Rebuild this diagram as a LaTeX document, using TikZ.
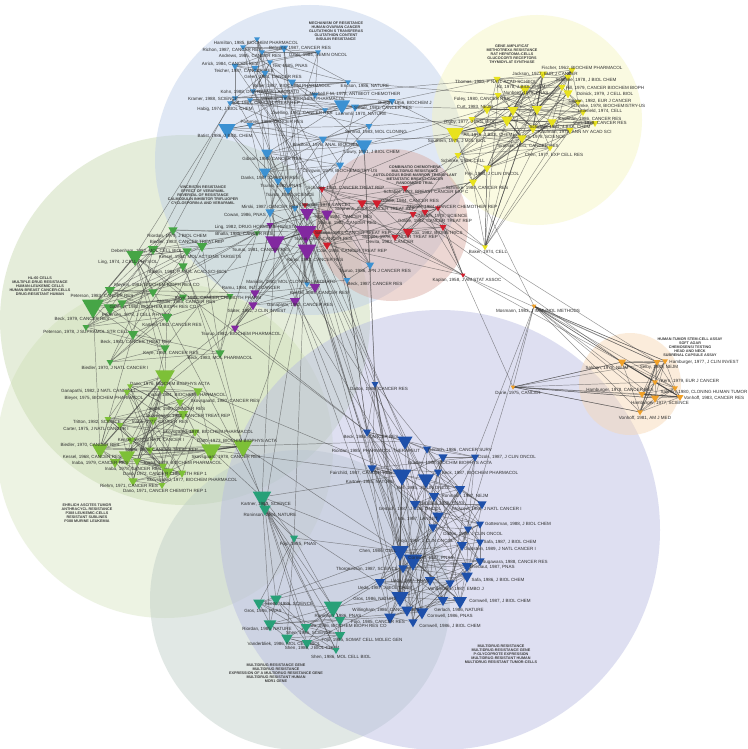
\documentclass[tikz,border=0pt]{standalone}
\usepackage{fontspec}
\setmainfont{Liberation Sans}
\usetikzlibrary{shapes.geometric}
\definecolor{nb}{RGB}{60,145,210}
\definecolor{ny}{RGB}{232,226,30}
\definecolor{nr}{RGB}{210,30,45}
\definecolor{np}{RGB}{130,40,160}
\definecolor{ng}{RGB}{70,165,70}
\definecolor{nl}{RGB}{125,192,55}
\definecolor{nt}{RGB}{40,160,120}
\definecolor{nd}{RGB}{30,80,170}
\definecolor{no}{RGB}{240,160,40}
\definecolor{cblue}{RGB}{188,204,233}
\definecolor{cyellow}{RGB}{244,244,190}
\definecolor{cred}{RGB}{217,168,159}
\definecolor{cgreen}{RGB}{199,217,173}
\definecolor{clgreen}{RGB}{217,230,195}
\definecolor{cteal}{RGB}{190,205,198}
\definecolor{clav}{RGB}{182,186,226}
\definecolor{corange}{RGB}{248,215,177}
\pgfdeclarelayer{back}
\pgfdeclarelayer{mid}
\pgfsetlayers{back,mid,main}
\tikzset{
	tri/.style={regular polygon, regular polygon sides=3, shape border rotate=180, fill=#1, draw=none, inner sep=0pt},
	lbl/.style={font=\fontsize{3.4}{4}\selectfont, text={rgb,255:red,45;green,45;blue,45}, inner sep=0pt},
	kw/.style={font=\fontsize{2.8}{3.1}\selectfont\bfseries, text={rgb,255:red,60;green,60;blue,60}, align=center, inner sep=0pt},
	edge/.style={draw={rgb,255:red,60;green,60;blue,60}, line width=0.35pt, opacity=0.55},
	heavy/.style={edge, line width=0.8pt, opacity=0.7},
	cluster/.style={fill=#1, fill opacity=0.45, draw=none}
}
% name, x, y, size, colour, label x, label y, text
\newcommand{\pubnode}[8]{%
	\node[tri=#5, minimum size=#4pt] (#1) at (#2,#3) {};
	\node[lbl] (#1l) at (#6,#7) {#8};}
% links inside one cluster
\newcommand{\meshcluster}[3]{%
	\foreach \i in {1,...,#2}{\foreach \k in {#3}{%
		\pgfmathtruncatemacro\j{mod(\i+\k-1,#2)+1}%
		\draw[edge] (#1\i.center) -- (#1\j.center);}}}

\begin{document}
\begin{tikzpicture}[x=0.75pt,y=0.75pt,yscale=-1,xscale=1]
\useasboundingbox (0,0) rectangle (747,749);

\begin{pgfonlayer}{back}
\fill[white] (0,0) rectangle (747,749);
\begin{scope}
\clip (0,0) rectangle (747,749);
\fill[cluster=clgreen] (165,450) circle [radius=168];
\fill[cluster=cgreen] (185,320) circle [radius=185];
\fill[cluster=cteal] (300,600) circle [radius=150];
\fill[cluster=clav] (440,530) circle [radius=220];
\fill[cluster=cblue] (310,160) circle [radius=155];
\fill[cluster=cyellow] (537,120) circle [radius=105];
\fill[cluster=cred] (392,225) circle [radius=76];
\fill[cluster=corange] (630,384) circle [radius=51];
\end{scope}
\end{pgfonlayer}

% cluster keywords
\node[kw] (kwblue) at (336,31) {MECHANISM OF RESISTANCE\\HUMAN OVARIAN CANCER\\GLUTATHION S TRANSFERAS\\GLUTATHION CONTENT\\INSULIN RESISTANCE};
\node[kw] (kwyellow) at (512,54) {GENE AMPLIFICAT\\METHOTREXA RESISTANCE\\RAT HEPATOMA-CELLS\\GLUCOCORTI RECEPTORS\\THYMIDYLAT SYNTHASE};
\node[kw] (kwred) at (415,175) {COMBINATIO CHEMOTHERA\\MULTIDRUG RESISTANCE\\AUTOLOGOUS BONE-MARROW TRANSPLANT\\METASTATIC BREAST-CANCER\\RANDOMIZED TRIAL};
\node[kw] (kwgreen) at (203,195) {VINCRISTIN RESISTANCE\\EFFECT OF VERAPAMIL\\REVERSAL OF RESISTANCE\\CALMODULIN INHIBITOR TRIFLUOPER\\CYCLOSPORIN-A AND VERAPAMIL};
\node[kw] (kwhl) at (40,286) {HL-60 CELLS\\MULTIPLE-DRUG RESISTANCE\\HUMAN-LEUKEMIC CELLS\\HUMAN-BREAST CANCER-CELLS\\DRUG-RESISTANT HUMAN};
\node[kw] (kwehr) at (87,513) {EHRLICH ASCITES TUMOR\\ANTHRACYCL RESISTANCE\\P388 LEUKEMIC-CELLS\\RESISTANT SUBLINES\\P388 MURINE LEUKEMIA};
\node[kw] (kworange) at (690,347) {HUMAN-TUMOR STEM-CELL ASSAY\\SOFT AGAR\\CHEMOSENSI TESTING\\HEAD AND NECK\\SUBRENAL CAPSULE ASSAY};
\node[kw] (kwteal) at (276,673) {MULTIDRUG-RESISTANCE GENE\\MULTIDRUG RESISTANCE\\EXPRESSION OF A MULTIDRUG RESISTANCE GENE\\MULTIDRUG RESISTANT HUMAN\\MDR1 GENE};
\node[kw] (kwlav) at (501,654) {MULTIDRUG RESISTANCE\\MULTIDRUG-RESISTANCE GENE\\P-GLYCOPROTE EXPRESSION\\MULTIDRUG-RESISTANT HUMAN\\MULTIDRUG RESISTANT TUMOR-CELLS};

% blue cluster
\pubnode{b1}{257}{39}{5}{nb}{256}{43}{Hamilton, 1985, BIOCHEM PHARMACOL}
\pubnode{b2}{243}{47}{5}{nb}{232}{50}{Richon, 1987, CANCER RES}
\pubnode{b3}{284}{48}{7}{nb}{300}{48}{Behrens, 1987, CANCER RES}
\pubnode{b4}{262}{52}{5}{nb}{250}{56}{Andrews, 1985, CANCER RES}
\pubnode{b5}{318}{52}{5}{nb}{318}{55}{Ozols, 1984, SEMIN ONCOL}
\pubnode{b6}{235}{66}{6}{nb}{230}{64}{Arrick, 1984, CANCER RES}
\pubnode{b7}{255}{68}{6}{nb}{244}{71}{Teicher, 1987, CANCER RES}
\pubnode{b8}{270}{62}{5}{nb}{290}{66}{Tew, 1985, PNAS}
\pubnode{b9}{265}{73}{6}{nb}{273}{77}{Green, 1984, CANCER RES}
\pubnode{b10}{292}{82}{7}{nb}{292}{86}{Buller, 1987, BIOCHEM PHARMACOL}
\pubnode{b11}{348}{82}{5}{nb}{365}{86}{Ericson, 1986, NATURE}
\pubnode{b12}{253}{91}{5}{nb}{260}{92}{Kohn, 1988, DNA REPAIR LABORATO}
\pubnode{b13}{315}{95}{6}{nb}{355}{94}{Mitchell F M, 1978, ANTIBIOT CHEMOTHER}
\pubnode{b14}{235}{98}{5}{nb}{213}{99}{Kramer, 1988, SCIENCE}
\pubnode{b15}{285}{97}{5}{nb}{303}{99}{Waxman, 1986, BIOCHEM PHARMACOL}
\pubnode{b16}{250}{100}{5}{nb}{265}{103}{Wolf, 1987, CANCER TREAT REP}
\pubnode{b17}{230}{103}{5}{nb}{225}{109}{Habig, 1974, J BIOL CHEM}
\pubnode{b18}{325}{110}{5}{nb}{302}{113}{Zwelling, 1981, CANCER RES}
\pubnode{b19}{342}{105}{14}{nb}{361}{114}{Laemmli, 1970, NATURE}
\pubnode{b20}{355}{107}{7}{nb}{383}{108}{Sieber, 1983, CANCER RES}
\pubnode{b21}{392}{101}{6}{nb}{405}{103}{Burton, 1956, BIOCHEM J}
\pubnode{b22}{250}{125}{6}{nb}{272}{122}{Pommier, 1986, CANCER RES}
\pubnode{b23}{227}{129}{15}{nb}{225}{136}{Batist, 1986, J BIOL CHEM}
\pubnode{b24}{369}{126}{6}{nb}{376}{132}{Schmid, 1983, MOL CLONING}
\pubnode{b25}{323}{139}{7}{nb}{326}{145}{Bradford, 1976, ANAL BIOCHEM}
\pubnode{b26}{364}{145}{14}{nb}{372}{152}{Lowry, 1951, J BIOL CHEM}
\pubnode{b27}{267}{153}{10}{nb}{272}{159}{Gibson, 1985, CANCER RES}
\pubnode{b28}{340}{165}{7}{nb}{340}{171}{Chirgwin, 1979, BIOCHEMISTRY-US}
\pubnode{b29}{265}{172}{10}{nb}{270}{178}{Danks, 1987, CANCER RES}
\pubnode{b30}{278}{181}{7}{nb}{281}{186}{Tsuruo, 1983, PNAS}
\pubnode{b31}{288}{190}{7}{nb}{290}{195}{Tsuruo, 1984, SCIENCE}
\pubnode{b32}{295}{208}{6}{nb}{270}{207}{Mirski, 1987, CANCER RES}
\pubnode{b33}{270}{212}{8}{nb}{245}{215}{Cowan, 1986, PNAS}
\pubnode{b34}{370}{265}{7}{nb}{375}{271}{Tsuruo, 1986, JPN J CANCER RES}
\pubnode{b35}{347}{280}{6}{nb}{375}{284}{Beck, 1987, CANCER RES}
\pubnode{b36}{307}{284}{5}{nb}{291}{282}{Maniatis, 1982, MOL CLONING LABORATO}

% yellow cluster
\pubnode{y1}{572}{70}{6}{ny}{582}{68}{Fischer, 1962, BIOCHEM PHARMACOL}
\pubnode{y2}{543}{74}{7}{ny}{545}{74}{Jackson, 1977, EUR J CANCER}
\pubnode{y3}{568}{77}{6}{ny}{586}{80}{Schimke, 1978, J BIOL CHEM}
\pubnode{y4}{497}{79}{6}{ny}{496}{82}{Thomas, 1980, P NATL ACAD SCI-BIOL}
\pubnode{y5}{525}{89}{9}{ny}{521}{87}{Alt, 1978, J BIOL CHEM}
\pubnode{y6}{562}{87}{6}{ny}{605}{88}{Hill, 1979, CANCER BIOCHEM BIOPH}
\pubnode{y7}{513}{110}{9}{ny}{526}{93}{Nunberg, 1978, PNAS}
\pubnode{y8}{568}{93}{8}{ny}{605}{94}{Dolnick, 1979, J CELL BIOL}
\pubnode{y9}{498}{95}{6}{ny}{482}{99}{Foley, 1980, CANCER RES}
\pubnode{y10}{578}{102}{6}{ny}{600}{101}{Cowan, 1982, EUR J CANCER}
\pubnode{y11}{537}{109}{9}{ny}{608}{106}{Schimke, 1978, BIOCHEMISTRY-US}
\pubnode{y12}{487}{109}{8}{ny}{475}{107}{Curt, 1983, NEJM}
\pubnode{y13}{583}{112}{6}{ny}{600}{111}{Littlefield, 1974, CELL}
\pubnode{y14}{472}{119}{6}{ny}{470}{122}{Rigby, 1977, J MOL BIOL}
\pubnode{y15}{552}{122}{8}{ny}{590}{119}{Kaufman, 1986, CANCER RES}
\pubnode{y16}{595}{123}{6}{ny}{600}{123}{Curt, 1979, CANCER RES}
\pubnode{y17}{533}{128}{8}{ny}{560}{127}{Schimke, 1981, J BIOL CHEM}
\pubnode{y18}{570}{130}{6}{ny}{575}{132}{Kaufman, 1979, ANN NY ACAD SCI}
\pubnode{y19}{480}{130}{8}{ny}{488}{135}{Alt, 1976, J BIOL CHEM}
\pubnode{y20}{507}{120}{10}{ny}{539}{137}{Schimke, 1978, SCIENCE}
\pubnode{y21}{455}{133}{15}{ny}{457}{141}{Southern, 1975, J MOL BIOL}
\pubnode{y22}{522}{138}{8}{ny}{528}{146}{Sirotnak, 1981, CANCER RES}
\pubnode{y23}{550}{148}{5}{ny}{554}{155}{Chen, 1977, EXP CELL RES}
\pubnode{y24}{458}{155}{6}{ny}{463}{161}{Schimke, 1984, CELL}
\pubnode{y25}{487}{168}{7}{ny}{492}{174}{Frei, 1984, J CLIN ONCOL}
\pubnode{y26}{473}{182}{7}{ny}{477}{188}{Schimke, 1984, CANCER RES}
\pubnode{y27}{485}{247}{5}{ny}{488}{252}{Baker, 1974, CELL}

% red cluster
\pubnode{r1}{322}{189}{6}{nr}{346}{188}{Schabel, 1983, CANCER TREAT REP}
\pubnode{r2}{405}{188}{6}{nr}{426}{192}{Schabel, 1983, BREAST CANCER EXP C}
\pubnode{r3}{377}{203}{8}{nr}{410}{201}{Goldie, 1984, CANCER RES}
\pubnode{r4}{438}{208}{5}{nr}{452}{207}{Skipper, 1984, CANCER CHEMOTHER REP}
\pubnode{r5}{425}{212}{6}{nr}{443}{216}{Norton, 1978, SCIENCE}
\pubnode{r6}{413}{214}{6}{nr}{435}{221}{Goldie, 1982, CANCER TREAT REP}
\pubnode{r7}{443}{227}{6}{nr}{437}{233}{Cox, 1982, BIOMETRICS}
\pubnode{r8}{408}{232}{9}{nr}{400}{237}{Skipper, 1978, CANCER TREAT REP}
\pubnode{r9}{395}{237}{6}{nr}{390}{242}{Devita, 1983, CANCER}
\pubnode{r10}{463}{275}{4}{nr}{467}{280}{Kaplan, 1958, J AM STAT ASSOC}
\pubnode{r11}{305}{205}{5}{nr}{325}{205}{Tattersall, 1978, LANCET}
\pubnode{r12}{317}{233}{9}{nr}{353}{233}{Salmon, 1983, CANCER TREAT REP}
\pubnode{r13}{327}{245}{7}{nr}{352}{251}{Cole, 1986, CANCER TREAT REP}
\pubnode{r14}{362}{203}{8}{nr}{375}{209}{Stephens, 1983, CANCER TREAT REP}

% purple cluster
\pubnode{p1}{307}{213}{12}{np}{343}{217}{Tsuruo, 1984, CANCER RES}
\pubnode{p2}{327}{214}{10}{np}{347}{223}{Tsuruo, 1982, CANCER RES}
\pubnode{p3}{270}{225}{6}{np}{256}{227}{Ling, 1982, DRUG HORMONE RESISTA}
\pubnode{p4}{275}{242}{17}{np}{261}{250}{Tsuruo, 1981, CANCER RES}
\pubnode{p5}{306}{232}{18}{np}{323}{239}{Tsuruo, 1983, CANCER RES}
\pubnode{p6}{307}{250}{16}{np}{315}{260}{Ramu, 1983, CANCER RES}
\pubnode{p7}{255}{293}{8}{np}{251}{288}{Ramu, 1984, INT J CANCER}
\pubnode{p8}{315}{287}{9}{np}{319}{293}{Kessel, 1985, CANCER RES}
\pubnode{p9}{295}{301}{9}{np}{300}{305}{Ganapathi, 1982, CANCER RES}
\pubnode{p10}{253}{305}{8}{np}{257}{311}{Slater, 1982, J CLIN INVEST}
\pubnode{p11}{235}{328}{7}{np}{241}{334}{Tsuruo, 1982, BIOCHEM PHARMACOL}

% green cluster
\pubnode{g1}{173}{230}{8}{ng}{177}{236}{Riordan, 1979, J BIOL CHEM}
\pubnode{g2}{202}{246}{9}{ng}{187}{242}{Biedler, 1983, CANCER TREAT REP}
\pubnode{g3}{153}{249}{9}{ng}{147}{251}{Debenham, 1982, MOL CELL BIOL}
\pubnode{g4}{135}{256}{15}{ng}{128}{262}{Ling, 1974, J CELL PHYSIOL}
\pubnode{g5}{187}{251}{8}{ng}{200}{257}{Kessel, 1981, MOL ACTIONS TARGETS}
\pubnode{g6}{183}{266}{8}{ng}{188}{272}{Baskin, 1981, P NATL ACAD SCI-BIOL}
\pubnode{g7}{153}{292}{8}{ng}{157}{285}{Meyers, 1981, BIOCHEM BIOPH RES CO}
\pubnode{g8}{110}{290}{9}{ng}{102}{296}{Peterson, 1983, CANCER RES}
\pubnode{g9}{93}{306}{19}{ng}{82}{319}{Beck, 1979, CANCER RES}
\pubnode{g10}{110}{308}{11}{ng}{153}{307}{Garman, 1982, BIOCHEM BIOPH RES CO}
\pubnode{g11}{183}{297}{7}{ng}{186}{302}{Chitnis, 1985, CANCER RES}
\pubnode{g12}{230}{296}{6}{ng}{218}{298}{Kaye, 1985, CANCER CHEMOTH PHARM}
\pubnode{g13}{122}{303}{8}{ng}{137}{315}{Pedersen, 1978, J CELL PHYSIOL}
\pubnode{g14}{86}{327}{6}{ng}{86}{332}{Peterson, 1978, J SUPRAMOL STR CELL}
\pubnode{g15}{167}{317}{9}{ng}{172}{325}{Kartner, 1983, CANCER RES}
\pubnode{g16}{133}{334}{9}{ng}{136}{342}{Beck, 1983, CANCER TREAT REP}
\pubnode{g17}{165}{348}{8}{ng}{171}{353}{Kaye, 1983, CANCER RES}
\pubnode{g18}{110}{362}{6}{ng}{115}{368}{Biedler, 1970, J NATL CANCER I}
\pubnode{g19}{220}{353}{8}{ng}{220}{358}{Beck, 1983, MOL PHARMACOL}
\pubnode{g20}{257}{233}{5}{ng}{244}{234}{Bhalla, 1985, CANCER RES}

% light green cluster
\pubnode{l1}{165}{376}{17}{nl}{170}{384}{Dano, 1976, BIOCHIM BIOPHYS ACTA}
\pubnode{l2}{130}{386}{5}{nl}{98}{391}{Ganapathi, 1982, J NATL CANCER I}
\pubnode{l3}{127}{392}{6}{nl}{104}{398}{Bleyer, 1975, BIOCHEM PHARMACOL}
\pubnode{l4}{162}{389}{8}{nl}{187}{395}{Inaba, 1981, BIOCHEM PHARMACOL}
\pubnode{l5}{198}{391}{8}{nl}{225}{401}{Skovsgaard, 1980, CANCER RES}
\pubnode{l6}{180}{402}{7}{nl}{177}{409}{Inaba, 1980, CANCER RES}
\pubnode{l7}{183}{414}{9}{nl}{188}{416}{Skovsgaard, 1982, CANCER TREAT REP}
\pubnode{l8}{108}{419}{6}{nl}{97}{422}{Tritton, 1982, SCIENCE}
\pubnode{l9}{153}{420}{8}{nl}{160}{422}{Inaba, 1977, CANCER RES}
\pubnode{l10}{120}{425}{6}{nl}{96}{429}{Carter, 1975, J NATL CANCER I}
\pubnode{l11}{195}{432}{7}{nl}{208}{432}{Skovsgaard, 1978, BIOCHEM PHARMACOL}
\pubnode{l12}{131}{440}{7}{nl}{151}{440}{Kessel, 1977, J NATL CANCER I}
\pubnode{l13}{100}{449}{14}{nl}{90}{445}{Biedler, 1970, CANCER RES}
\pubnode{l14}{150}{450}{7}{nl}{162}{450}{Inaba, 1976, CANCER TREAT REP}
\pubnode{l15}{243}{446}{17}{nl}{237}{441}{Dano, 1973, BIOCHIM BIOPHYS ACTA}
\pubnode{l16}{211}{450}{17}{nl}{226}{457}{Skovsgaard, 1978, CANCER RES}
\pubnode{l17}{127}{456}{14}{nl}{92}{457}{Kessel, 1968, CANCER RES}
\pubnode{l18}{115}{462}{9}{nl}{100}{463}{Inaba, 1979, CANCER RES}
\pubnode{l19}{163}{466}{7}{nl}{183}{463}{Inaba, 1979, BIOCHEM PHARMACOL}
\pubnode{l20}{137}{461}{7}{nl}{133}{469}{Inaba, 1978, CANCER RES}
\pubnode{l21}{168}{472}{10}{nl}{165}{474}{Dano, 1972, CANCER CHEMOTH REP 1}
\pubnode{l22}{182}{473}{7}{nl}{192}{480}{Skovsgaard, 1977, BIOCHEM PHARMACOL}
\pubnode{l23}{133}{481}{8}{nl}{129}{486}{Riehm, 1971, CANCER RES}
\pubnode{l24}{162}{485}{6}{nl}{165}{491}{Dano, 1971, CANCER CHEMOTH REP 1}

% teal cluster
\pubnode{t1}{262}{497}{16}{nt}{266}{504}{Kartner, 1983, SCIENCE}
\pubnode{t2}{265}{509}{10}{nt}{270}{515}{Roninson, 1984, NATURE}
\pubnode{t3}{294}{538}{7}{nt}{298}{544}{Fojo, 1985, PNAS}
\pubnode{t4}{276}{599}{10}{nt}{289}{604}{Scotto, 1986, SCIENCE}
\pubnode{t5}{259}{603}{10}{nt}{263}{611}{Gros, 1986, PNAS}
\pubnode{t6}{270}{624}{11}{nt}{267}{629}{Riordan, 1985, NATURE}
\pubnode{t7}{333}{607}{16}{nt}{338}{616}{Roninson, 1986, PNAS}
\pubnode{t8}{340}{620}{9}{nt}{346}{626}{Ueda, 1986, BIOCHEM BIOPH RES CO}
\pubnode{t9}{306}{627}{9}{nt}{309}{633}{Shen, 1986, SCIENCE}
\pubnode{t10}{340}{635}{9}{nt}{362}{640}{Fojo, 1985, SOMAT CELL MOLEC GEN}
\pubnode{t11}{287}{638}{10}{nt}{284}{644}{Vanderbliek, 1986, MOL CELL BIOL}
\pubnode{t12}{307}{643}{9}{nt}{312}{648}{Shen, 1986, J BIOL CHEM}
\pubnode{t13}{336}{650}{6}{nt}{341}{657}{Shen, 1986, MOL CELL BIOL}

% dark blue cluster
\pubnode{d1}{375}{384}{6}{nd}{379}{389}{Dalton, 1986, CANCER RES}
\pubnode{d2}{367}{432}{7}{nd}{371}{437}{Beck, 1986, CANCER RES}
\pubnode{d3}{405}{441}{13}{nd}{376}{451}{Riordan, 1985, PHARMACOL THERAPEUT}
\pubnode{d4}{427}{449}{7}{nd}{460}{450}{Gerlach, 1986, CANCER SURV}
\pubnode{d5}{475}{457}{7}{nd}{507}{457}{Ozols, 1987, J CLIN ONCOL}
\pubnode{d6}{443}{457}{8}{nd}{450}{463}{Bradley, 1988, BIOCHIM BIOPHYS ACTA}
\pubnode{d7}{438}{472}{7}{nd}{480}{473}{Beck, 1987, BIOCHEM PHARMACOL}
\pubnode{d8}{372}{468}{8}{nd}{361}{473}{Fairchild, 1987, CANCER RES}
\pubnode{d9}{402}{475}{16}{nd}{370}{482}{Kartner, 1985, NATURE}
\pubnode{d10}{426}{479}{14}{nd}{424}{488}{Bell, 1985, J CLIN ONCOL}
\pubnode{d11}{460}{489}{9}{nd}{465}{496}{Roninson, 1987, NEJM}
\pubnode{d12}{434}{496}{9}{nd}{442}{503}{Hamada, 1986, PNAS}
\pubnode{d13}{415}{504}{9}{nd}{410}{509}{Gerlach, 1987, J CLIN ONCOL}
\pubnode{d14}{482}{504}{8}{nd}{487}{509}{Moscow, 1988, J NATL CANCER I}
\pubnode{d15}{438}{516}{10}{nd}{418}{519}{Ma, 1987, LANCET}
\pubnode{d16}{480}{524}{7}{nd}{518}{524}{Gottesman, 1988, J BIOL CHEM}
\pubnode{d17}{468}{529}{7}{nd}{473}{534}{Dalton, 1989, J CLIN ONCOL}
\pubnode{d18}{433}{527}{8}{nd}{426}{541}{Fojo, 1987, J CLIN ONCOL}
\pubnode{d19}{480}{542}{7}{nd}{510}{542}{Safa, 1987, J BIOL CHEM}
\pubnode{d20}{462}{545}{9}{nd}{500}{549}{Goldstein, 1989, J NATL CANCER I}
\pubnode{d21}{400}{551}{15}{nd}{378}{551}{Chen, 1986, CELL}
\pubnode{d22}{480}{561}{8}{nd}{515}{562}{Sugawara, 1988, CANCER RES}
\pubnode{d23}{413}{560}{16}{nd}{431}{558}{Cornwell, 1987, PNAS}
\pubnode{d24}{467}{566}{9}{nd}{492}{567}{Thiebaut, 1987, PNAS}
\pubnode{d25}{403}{568}{8}{nd}{367}{569}{Thorgeirsson, 1987, SCIENCE}
\pubnode{d26}{467}{576}{10}{nd}{498}{580}{Safa, 1986, J BIOL CHEM}
\pubnode{d27}{430}{580}{9}{nd}{410}{581}{Ueda, 1987, PNAS}
\pubnode{d28}{380}{582}{9}{nd}{385}{588}{Ueda, 1987, J BIOL CHEM}
\pubnode{d29}{450}{583}{8}{nd}{456}{589}{Vanderbliek, 1987, EMBO J}
\pubnode{d30}{400}{597}{15}{nd}{375}{599}{Gros, 1986, NATURE}
\pubnode{d31}{460}{601}{12}{nd}{500}{601}{Cornwell, 1987, J BIOL CHEM}
\pubnode{d32}{443}{600}{9}{nd}{459}{610}{Gerlach, 1986, NATURE}
\pubnode{d33}{422}{612}{11}{nd}{386}{610}{Willingham, 1986, CANCER RES}
\pubnode{d34}{407}{610}{10}{nd}{450}{616}{Cornwell, 1986, PNAS}
\pubnode{d35}{390}{617}{10}{nd}{378}{622}{Fojo, 1985, CANCER RES}
\pubnode{d36}{413}{622}{8}{nd}{450}{626}{Cornwell, 1986, J BIOL CHEM}

% orange cluster
\pubnode{o1}{534}{306}{4}{no}{538}{311}{Mosmann, 1983, J IMMUNOL METHODS}
\pubnode{o2}{622}{362}{7}{no}{607}{368}{Salmon, 1978, NEJM}
\pubnode{o3}{657}{362}{6}{no}{659}{367}{Selby, 1983, NEJM}
\pubnode{o4}{665}{361}{5}{no}{704}{362}{Hamburger, 1977, J CLIN INVEST}
\pubnode{o5}{655}{382}{5}{no}{690}{381}{Kern, 1979, EUR J CANCER}
\pubnode{o6}{642}{394}{6}{no}{620}{390}{Hamburger, 1978, CANCER RES}
\pubnode{o7}{675}{388}{5}{no}{704}{392}{Salmon, 1980, CLONING HUMAN TUMOR}
\pubnode{o8}{680}{397}{6}{no}{714}{398}{Vonhoff, 1983, CANCER RES}
\pubnode{o9}{655}{398}{7}{no}{660}{403}{Hamburger, 1977, SCIENCE}
\pubnode{o10}{640}{412}{5}{no}{645}{418}{Vonhoff, 1981, AM J MED}
\pubnode{o11}{513}{387}{4}{no}{518}{393}{Durie, 1975, CANCER}

% co-citation links
\begin{pgfonlayer}{mid}
\meshcluster{b}{36}{1,3,8}
\meshcluster{y}{27}{1,2,5,9}
\meshcluster{r}{14}{1,3,5}
\meshcluster{p}{11}{1,2,4}
\meshcluster{g}{20}{1,3,7}
\meshcluster{l}{24}{1,2,5,11}
\meshcluster{t}{13}{1,2,5}
\meshcluster{d}{36}{1,3,7,12}
\meshcluster{o}{11}{1,2,3,5}
\foreach \a/\b in {b3/p5, b9/p4, b10/p1, b12/r1, b16/p6, b22/p4, b23/p5, b27/p4, b29/p6, b30/p1,
	b31/p5, b26/p2, b25/r12, b33/g20, b32/p4, b21/y21, b19/y12, b26/y21, b25/y22, b13/y4,
	b11/y9, b20/y19, b24/y14, b28/r2, y24/r2, y25/r4, y26/r3, y21/r1, y27/r5, y25/r8,
	y24/r9, y26/r14, y22/r2, r10/o2, r10/o3, r10/r7, r10/r4, o1/o4, o1/o2, o1/y26,
	o1/d29, r7/o3, r6/o2, o11/o2, o11/o9, o11/o10, o11/r10, y27/y22, y27/y23, y27/y25,
	y27/r4, p4/g4, p5/g1, p6/g9, p1/g2, p7/g8, p10/l1, p11/l4, p9/l15, p4/d21,
	p5/d9, p6/d30, p1/d3, p2/d23, p8/d21, p9/d9, l15/d21, l16/d9, t1/d21, t1/d9,
	t2/d30, t3/d21, t7/d23, t7/d30, t8/d35, t6/d33, t4/d25, t9/d28, t12/d30, t5/d21,
	g9/l13, g4/l1, g1/l15, g15/l1, g16/l13, g17/l23, g19/l15, t1/p4, t1/g4, t2/p6,
	t3/p5, d1/b26, d2/b35, d1/p5, d3/p4, d8/p6, d2/g4, d9/l1, d3/l15, t1/l16,
	t2/l15, b36/p8, b34/d1, b35/d2, r13/p6, r12/p5, b23/g1, b17/g3, b14/g4, y4/b21,
	y12/b26, d5/o1, p5/d10, p6/d23, p4/d30, p1/d21, p2/d9, p8/d33, p11/d2}
	\draw[edge] (\a.center) -- (\b.center);
% strongest links
\foreach \a/\b in {y5/y20, y7/y17, y20/y22, y11/y1, y17/y2, y21/y20, y25/y15, o2/o8, o3/o10, o6/o8,
	p4/p5, p5/p6, d9/d21, d21/d30, d23/d31, t1/t2, l1/l13, l15/l16, g4/g9}
	\draw[heavy] (\a.center) -- (\b.center);
\end{pgfonlayer}

\end{tikzpicture}
\end{document}
